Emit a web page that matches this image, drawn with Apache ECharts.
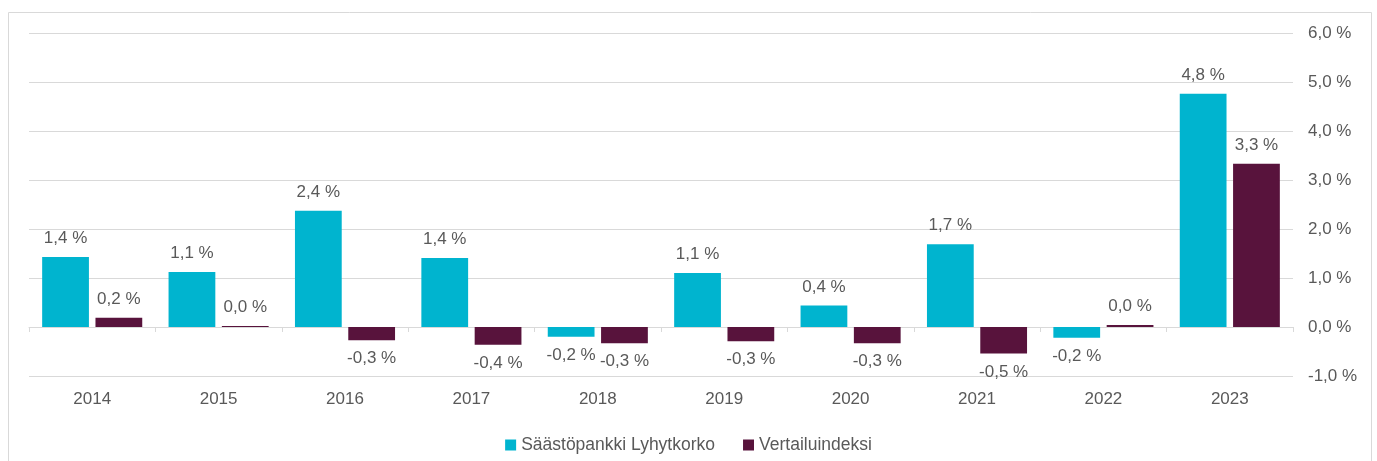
<!DOCTYPE html>
<html>
<head>
<meta charset="utf-8">
<script src="https://cdn.jsdelivr.net/npm/echarts@6/dist/echarts.min.js"></script>
<style>
  html, body { margin: 0; padding: 0; background: #fff; }
  #chart { width: 1377px; height: 461px; }
</style>
</head>
<body>
<div id="chart"></div>
<script>
// vuodet ja tuotot (%)
var years = ['2014', '2015', '2016', '2017', '2018', '2019', '2020', '2021', '2022', '2023'];
var rahasto = [1.43, 1.12, 2.37, 1.41, -0.2, 1.1, 0.44, 1.69, -0.22, 4.76];
var indeksi = [0.19, 0.02, -0.27, -0.36, -0.33, -0.29, -0.33, -0.54, 0.04, 3.33];
var seriesNames = ['Säästöpankki Lyhytkorko', 'Vertailuindeksi'];

var textColor = '#595959';
var fontFam = '"Liberation Sans", Arial, sans-serif';

function pct(v) {
    return v.toFixed(1).replace('.', ',') + ' %';
}

// positiivisille label ylös, negatiivisille alas
function withLabels(arr) {
    return arr.map(function (v) {
        return {
            value: v,
            label: { position: v < 0 ? 'bottom' : 'top' }
        };
    });
}

var myChart = echarts.init(document.getElementById('chart'));
var option = {
    animation: false,
    textStyle: { fontFamily: fontFam },
    graphic: [{
        type: 'rect',
        shape: { x: 8.5, y: 12.5, width: 1363, height: 470 },
        style: { fill: 'none', stroke: '#d9d9d9', lineWidth: 1 },
        silent: true
    }],
    legend: {
        data: seriesNames,
        top: 431,
        left: 'center',
        itemWidth: 11,
        itemHeight: 11,
        itemGap: 28,
        icon: 'rect',
        textStyle: { color: textColor, fontSize: 17.5, fontFamily: fontFam }
    },
    grid: {
        left: 29,
        right: 84,
        top: 33,
        bottom: 85
    },
    xAxis: [{
        type: 'category',
        data: years,
        axisLine: { onZero: true, lineStyle: { color: '#d9d9d9' } },
        axisTick: { show: true, length: 5, lineStyle: { color: '#d9d9d9' } },
        axisLabel: { show: false },
        splitLine: { show: false }
    }, {
        // vuosiluvut alareunaan
        type: 'category',
        data: years,
        position: 'bottom',
        axisLine: { show: false, onZero: false },
        axisTick: { show: false },
        axisLabel: { color: textColor, fontSize: 17, margin: 15, fontFamily: fontFam },
        splitLine: { show: false }
    }],
    yAxis: [{
        type: 'value',
        position: 'right',
        min: -1,
        max: 6,
        interval: 1,
        axisLine: { show: false },
        axisTick: { show: false },
        axisLabel: {
            color: textColor,
            fontSize: 17,
            margin: 15,
            fontFamily: fontFam,
            formatter: function (v) { return pct(v); }
        },
        splitLine: { lineStyle: { color: '#d9d9d9', width: 1 } }
    }],
    series: [{
        name: seriesNames[0],
        type: 'bar',
        xAxisIndex: 0,
        barWidth: '37%',
        barGap: '14%',
        data: withLabels(rahasto),
        itemStyle: { color: '#00b4cf' },
        label: {
            show: true,
            color: textColor,
            fontSize: 17,
            distance: 10,
            fontFamily: fontFam,
            formatter: function (p) { return pct(p.value); }
        }
    }, {
        name: seriesNames[1],
        type: 'bar',
        xAxisIndex: 0,
        barWidth: '37%',
        data: withLabels(indeksi),
        itemStyle: { color: '#58133c' },
        label: {
            show: true,
            color: textColor,
            fontSize: 17,
            distance: 10,
            fontFamily: fontFam,
            formatter: function (p) { return pct(p.value); }
        }
    }]
};
myChart.setOption(option);
window.addEventListener('resize', function () {
    myChart.resize();
});
</script>
</body>
</html>
